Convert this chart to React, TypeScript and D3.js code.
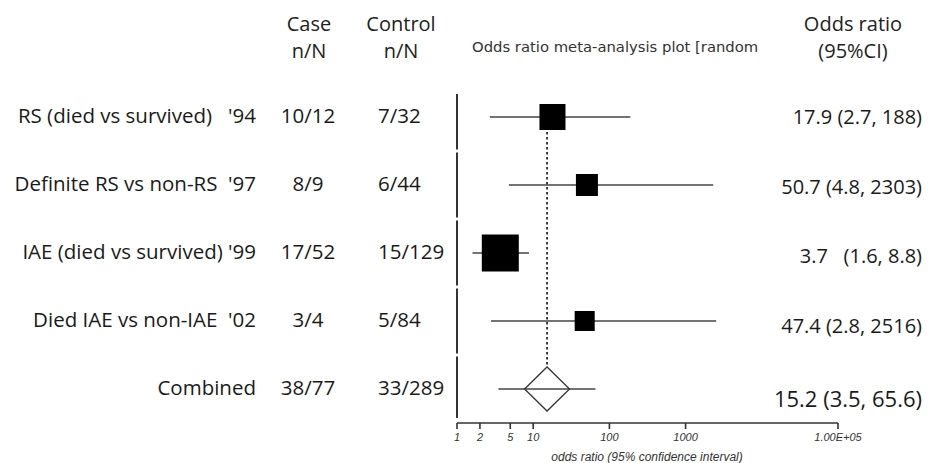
import React from "react";
import * as d3 from "d3";

const studies = [
  "RS (died vs survived)   '94",
  "Definite RS vs non-RS  '97",
  "IAE (died vs survived) '99",
  "Died IAE vs non-IAE  '02",
  "Combined",
];
const caseN = ["10/12", "8/9", "17/52", "3/4", "38/77"];
const controlN = ["7/32", "6/44", "15/129", "5/84", "33/289"];
const oddsRatio = [17.9, 50.7, 3.7, 47.4, 15.2];
const ciLow = [2.7, 4.8, 1.6, 2.8, 3.5];
const ciHigh = [188, 2303, 8.8, 2516, 65.6];
const weights = [23.1, 16.5, 46.7, 13.7];
const orLabels = [
  "17.9 (2.7, 188)",
  "50.7 (4.8, 2303)",
  "3.7   (1.6, 8.8)",
  "47.4 (2.8, 2516)",
  "15.2 (3.5, 65.6)",
];
const tickValues = [1, 2, 5, 10, 100, 1000, 100000];
const tickLabels = ["1", "2", "5", "10", "100", "1000", "1.00E+05"];

const W = 931;
const H = 463;
const FONT = "'Open Sans', sans-serif";
const SMALL = "'Liberation Sans', Arial, sans-serif";
const TITLE = "'DejaVu Sans', Verdana, sans-serif";

export default function App() {
  const x = d3.scaleLog().domain([1, 100000]).range([457, 838]);
  const y = d3.scaleBand<string>().domain(studies).range([83, 423]).padding(0);
  const size = d3.scaleSqrt().domain([0, d3.max(weights) as number]).range([0, 37]);
  const cy = (i: number) => (y(studies[i]) as number) + y.bandwidth() / 2;
  const n = studies.length;
  const pooled = n - 1;
  const dHalfW = 22.5;
  const dHalfH = 22;
  const axisY = 423;

  const textStyle: React.CSSProperties = { whiteSpace: "pre" };

  return (
    <svg width={W} height={H} style={{ position: "absolute", left: 0, top: 0, background: "#fff" }}>
      <rect x={0} y={0} width={W} height={H} fill="#fff" />
      {/* headers */}
      <g fontFamily={FONT} fontSize={20} fill="#222" textAnchor="middle">
        <text x={309} y={31}>Case</text>
        <text x={309} y={58}>n/N</text>
        <text x={401} y={31}>Control</text>
        <text x={401} y={58}>n/N</text>
        <text x={853} y={31}>Odds ratio</text>
        <text x={853} y={58}>(95%CI)</text>
      </g>
      <text x={472} y={52} fontFamily={TITLE} fontSize={14.8} fill="#333">
        Odds ratio meta-analysis plot [random
      </text>

      {/* rows text */}
      <g fontFamily={FONT} fontSize={20.5} fill="#1a1a1a">
        {studies.map((s, i) => (
          <g key={s}>
            <text x={256} y={cy(i) + 6} textAnchor="end" style={textStyle}>{s}</text>
            <text x={308} y={cy(i) + 6} textAnchor="middle">{caseN[i]}</text>
            <text x={378} y={cy(i) + 6} textAnchor="start">{controlN[i]}</text>
            <text
              x={922}
              y={cy(i) + (i === pooled ? 18 : 7 + i * 1.5)}
              textAnchor="end"
              fontSize={i === pooled ? 22 : 20}
              style={textStyle}
            >
              {orLabels[i]}
            </text>
          </g>
        ))}
      </g>

      {/* vertical null line segments */}
      {studies.map((s, i) => {
        const y0 = Math.max((y(s) as number) + 1.5, 94);
        const y1 = Math.min((y(s) as number) + y.bandwidth() - 1.5, 418);
        return <line key={"v" + i} x1={x(1)} x2={x(1)} y1={y0} y2={y1} stroke="#333" strokeWidth={2} />;
      })}

      {/* pooled dotted line */}
      <line
        x1={x(oddsRatio[pooled])}
        x2={x(oddsRatio[pooled])}
        y1={cy(0)}
        y2={cy(pooled) - dHalfH}
        stroke="#111"
        strokeWidth={1.6}
        strokeDasharray="2.5,2.5"
      />

      {/* studies */}
      {studies.slice(0, pooled).map((s, i) => {
        const sz = size(weights[i]);
        return (
          <g key={"st" + i}>
            <line x1={x(ciLow[i])} x2={x(ciHigh[i])} y1={cy(i)} y2={cy(i)} stroke="#444" strokeWidth={1.6} />
            <rect x={x(oddsRatio[i]) - sz / 2} y={cy(i) - sz / 2} width={sz} height={sz} fill="#000" />
          </g>
        );
      })}

      {/* pooled diamond */}
      <g>
        <line x1={x(ciLow[pooled])} x2={x(ciHigh[pooled])} y1={cy(pooled)} y2={cy(pooled)} stroke="#444" strokeWidth={1.4} />
        <path
          d={`M${x(oddsRatio[pooled]) - dHalfW},${cy(pooled)} L${x(oddsRatio[pooled])},${cy(pooled) - dHalfH} L${x(oddsRatio[pooled]) + dHalfW},${cy(pooled)} L${x(oddsRatio[pooled])},${cy(pooled) + dHalfH} Z`}
          fill="none"
          stroke="#333"
          strokeWidth={1.3}
        />
      </g>

      {/* x axis */}
      <line x1={x(1)} x2={x(100000)} y1={axisY} y2={axisY} stroke="#333" strokeWidth={1.6} />
      {tickValues.map((t, i) => (
        <g key={"t" + t}>
          <line x1={x(t)} x2={x(t)} y1={axisY} y2={axisY + 6} stroke="#333" strokeWidth={1.6} />
          <text x={x(t)} y={axisY + 18} textAnchor="middle" fontFamily={SMALL} fontStyle="italic" fontSize={11} fill="#333">
            {tickLabels[i]}
          </text>
        </g>
      ))}
      <text x={647} y={461} textAnchor="middle" fontFamily={SMALL} fontStyle="italic" fontSize={12} fill="#333">
        odds ratio (95% confidence interval)
      </text>
    </svg>
  );
}
